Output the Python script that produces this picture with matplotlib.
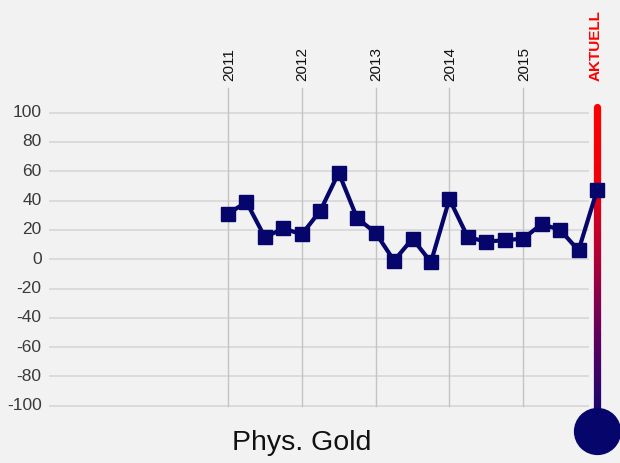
import matplotlib.pyplot as plt
import numpy as np
from matplotlib.collections import LineCollection
from matplotlib.colors import LinearSegmentedColormap

plt.rcParams['font.family'] = ['Liberation Sans', 'DejaVu Sans']

# quarterly values, 2011 Q1 .. aktuell
values = [31, 39, 15, 21, 17, 33, 59, 28, 18, -1, 14, -2, 41, 15, 12, 13, 14, 24, 20, 6, 47]
years = ['2011', '2012', '2013', '2014', '2015']
year_pos = [0, 4, 8, 12, 16]
yticks = [100, 80, 60, 40, 20, 0, -20, -40, -60, -80, -100]
current_label = 'AKTUELL'
title = 'Phys. Gold'

bg = '#f2f2f2'
navy = '#05056b'

fig = plt.figure(figsize=(6.2, 4.63), dpi=100, facecolor=bg)
ax = fig.add_axes([0, 0, 1, 1])
ax.set_facecolor(bg)
ax.axis('off')
ax.set_xlim(-228 / 18.45, (620 - 228) / 18.45)
ax.set_ylim(-(463 - 259.2) / 1.465, 259.2 / 1.465)

# horizontal grid + labels
for t in yticks:
    ax.plot([-9.65, 19.5], [t, t], color='#d9d9d9', lw=1.3, zorder=1)
    ax.text(-10.1, t, str(t), ha='right', va='center', fontsize=12.5, color='#3a3a3a')

# year lines + labels
for p, lab in zip(year_pos, years):
    ax.plot([p, p], [-100, 117], color='#c4c4c4', lw=1, zorder=1)
    ax.text(p + 0.05, 121.5, lab, rotation=90, ha='center', va='bottom', fontsize=11, color='#111111')

# gradient "aktuell" bar
xc = len(values) - 1
cmap = LinearSegmentedColormap.from_list('akt', [(0, '#ff0000'), (0.22, '#f0000a'),
                                                 (0.5, '#a8003c'), (0.75, '#550062'),
                                                 (1, '#0a0a6e')])
ys = np.linspace(104, -117, 120)
segs = [[(xc, ys[i]), (xc, ys[i + 1])] for i in range(len(ys) - 1)]
lc = LineCollection(segs, colors=cmap(np.linspace(0, 1, len(segs))), linewidths=5.2,
                    capstyle='round', zorder=2)
ax.add_collection(lc)
ax.plot(xc, -117.3, 'o', ms=33, color=navy, mec=navy, zorder=3)
ax.text(xc - 0.05, 121.5, current_label, rotation=90, ha='center', va='bottom',
        fontsize=11, fontweight='bold', color='#ff0000')

# series
x = np.arange(len(values))
ax.plot(x, values, color=navy, lw=3, marker='s', ms=9.6, zorder=4)

ax.text(4, -125.5, title, ha='center', va='center', fontsize=20.5, color='#111111')

fig.savefig('out.png', dpi=100, facecolor=bg)
